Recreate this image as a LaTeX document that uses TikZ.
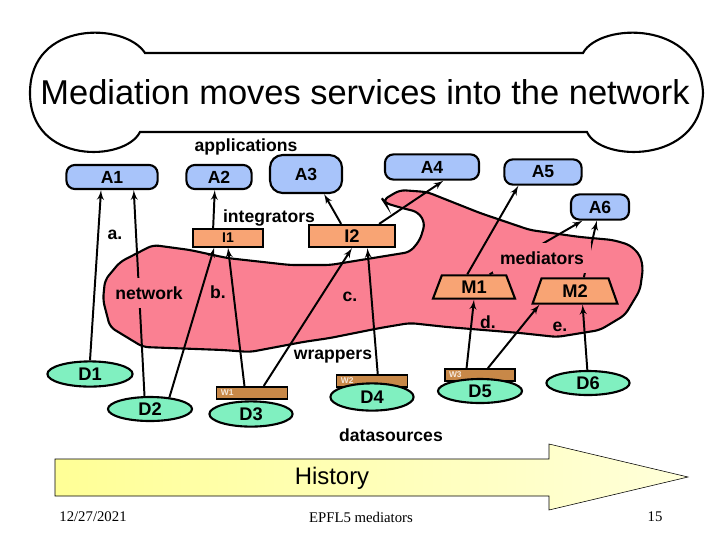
\documentclass[tikz,border=0pt]{standalone}
\usepackage{fontspec}
\setmainfont{Liberation Sans}
\newfontfamily\footfont{Liberation Serif}
\usetikzlibrary{arrows,shapes.geometric}
\definecolor{appblue}{RGB}{168,196,250}
\definecolor{partorange}{RGB}{248,164,116}
\definecolor{srcgreen}{RGB}{128,240,192}
\definecolor{wrapbrown}{RGB}{200,136,72}
\definecolor{blobpink}{RGB}{250,128,146}
\definecolor{histyellow}{RGB}{255,255,150}
\definecolor{histpale}{RGB}{255,255,218}
\pgfdeclarelayer{bg}
\pgfsetlayers{bg,main}
\tikzset{
    app/.style = {
        draw,
        shape=rectangle,
        rounded corners=6pt,
        fill=appblue,
        minimum height=0.6cm,
        inner sep=0pt,
        line width=1.5pt,
        font=\bfseries\fontsize{12.5}{14}\selectfont
    },
    integ/.style = {
        draw,
        shape=rectangle,
        fill=partorange,
        inner sep=0pt,
        line width=1.5pt
    },
    med/.style = {
        draw,
        shape=trapezium,
        trapezium angle=55,
        trapezium stretches body=true,
        fill=partorange,
        inner sep=0pt,
        line width=1.5pt,
        font=\bfseries\fontsize{13}{15}\selectfont
    },
    wrap/.style = {
        draw,
        shape=rectangle,
        fill=wrapbrown,
        minimum width=1.78cm,
        minimum height=0.31cm,
        inner sep=0pt,
        text width=1.55cm,
        align=left,
        line width=1.2pt,
        text=white!80!wrapbrown,
        font=\bfseries\fontsize{6}{6}\selectfont
    },
    src/.style = {
        draw,
        shape=ellipse,
        fill=srcgreen,
        minimum width=2.1cm,
        minimum height=0.6cm,
        inner sep=0pt,
        line width=1.5pt,
        font=\bfseries\fontsize{13}{15}\selectfont
    },
    lbl/.style = {
        inner sep=1pt,
        font=\bfseries\fontsize{12.5}{14}\selectfont
    },
    cover/.style = {
        lbl,
        fill=blobpink,
        inner xsep=5pt,
        inner ysep=6pt
    },
    >=latex',
}
\begin{document}
\begin{tikzpicture}[x=0.025cm, y=-0.025cm]
    \useasboundingbox (0,0) rectangle (720,540);

    % title bone
    \path[draw, fill=white, line width=1.5pt] (145,53) -- (583,53)
        .. controls (600,22) and (700,20) .. (703,93)
        .. controls (700,165) and (600,162) .. (587,132) -- (140,132)
        .. controls (125,162) and (30,165) .. (30,93)
        .. controls (30,20) and (125,22) .. (145,53) -- cycle;
    \node[font=\fontsize{24.5}{28}\selectfont] (title) at (365,92) {Mediation moves services into the network};

    % network region
    \begin{pgfonlayer}{bg}
        \path[draw, fill=blobpink, line width=1.5pt, rounded corners=4pt]
            (153,245) -- (190,250) -- (227,258) -- (290,265) -- (330,265) -- (410,252)
            -- (420,240) -- (425,223) -- (418,212) -- (402,208) -- (385,203) -- (383,200)
            -- (400,190) -- (427,192) -- (480,213) -- (530,230) -- (580,237) -- (613,240)
            -- (630,245) -- (640,255) -- (643,268) -- (640,290) -- (625,315) -- (600,330)
            -- (557,337) -- (520,333) -- (447,327) -- (410,323) -- (380,328) -- (330,338)
            -- (303,342) -- (250,352) -- (223,350) -- (143,347) -- (110,327) -- (103,300)
            -- (105,280) -- (120,262) -- cycle;
    \end{pgfonlayer}

    \node[app, minimum width=2.28cm] (a1) at (112,177) {A1};
    \node[app, minimum width=1.63cm] (a2) at (219,177) {A2};
    \node[app, minimum width=1.8cm, minimum height=0.95cm, rounded corners=9pt] (a3) at (306,174) {A3};
    \node[app, minimum width=2.35cm, minimum height=0.63cm] (a4) at (432,167) {A4};
    \node[app, minimum width=1.93cm, minimum height=0.63cm] (a5) at (543,172) {A5};
    \node[app, minimum width=1.45cm, minimum height=0.63cm] (a6) at (600,207) {A6};

    \node[integ, minimum width=1.73cm, minimum height=0.43cm, font=\bfseries\fontsize{10}{12}\selectfont] (i1) at (228,238) {I1};
    \node[integ, minimum width=2.15cm, minimum height=0.55cm, font=\bfseries\fontsize{13}{15}\selectfont] (i2) at (352,236) {I2};

    \node[med, minimum width=2.05cm, minimum height=0.58cm] (m1) at (474,287) {M1};
    \node[med, minimum width=2.12cm, minimum height=0.63cm] (m2) at (575,291) {M2};

    \node[wrap] (w1) at (252,393) {W1};
    \node[wrap, minimum height=0.3cm] (w2) at (372,381) {W2};
    \node[wrap, minimum width=1.75cm, minimum height=0.3cm] (w3) at (480,375) {W3};

    \node[src, minimum width=2.13cm, minimum height=0.63cm] (d1) at (90,374) {D1};
    \node[src] (d2) at (150,409) {D2};
    \node[src, minimum width=2.08cm, minimum height=0.63cm] (d3) at (251,414) {D3};
    \node[src, minimum width=2.08cm, minimum height=0.68cm] (d4) at (372,397) {D4};
    \node[src] (d5) at (480,391) {D5};
    \node[src, minimum width=2.08cm] (d6) at (588,383) {D6};

    \node[lbl] (applab) at (246,147) {applications};
    \node[lbl] (intlab) at (269,218) {integrators};
    \node[cover] (netlab) at (149,293) {network};
    \node[cover] (medlab) at (542,258) {mediators};
    \node[lbl] (wraplab) at (333,357) {wrappers};
    \node[lbl] (srclab) at (391,435) {datasources};
    \node[lbl] (la) at (115,235) {a.};
    \node[lbl] (lb) at (218,292) {b.};
    \node[lbl] (lc) at (350,297) {c.};
    \node[lbl] (ld) at (488,322) {d.};
    \node[lbl] (le) at (560,327) {e.};

    \begin{pgfonlayer}{bg}
        \path[draw, ->, line width=1.4pt] (d1.north) -- (a1.-130);
        \path[draw, ->, line width=1.4pt] (d2.113) -- (a1.-31);
        \path[draw, ->, line width=1.4pt] (d2.31) -- (i1.-145);
        \path[draw, ->, line width=1.4pt] (w1.137) -- (i1.south);
        \path[draw, ->, line width=1.4pt] (w1.31) -- (i2.south);
        \path[draw, ->, line width=1.4pt] (w2.50) -- (i2.-38);
        \path[draw, ->, line width=1.4pt] (i1.147) -- (a2.-108);
        \path[draw, ->, line width=1.4pt] (i2.132) -- (a3.-48);
        \path[draw, ->, line width=1.4pt] (i2.24) -- (a4.-50);
        \path[draw, ->, line width=1.4pt] (m1.118) -- (a5.-151);
        \path[draw, ->, line width=1.4pt] (m1.39) -- (a6.-142);
        \path[draw, ->, line width=1.4pt] (m2.57) -- (a6.-103);
        \path[draw, ->, line width=1.4pt] (w3.153) -- (m1.south);
        \path[draw, ->, line width=1.4pt] (w3.41) -- (m2.-159);
        \path[draw, ->, line width=1.4pt] (d6.93) -- (m2.-61);
    \end{pgfonlayer}

    % history arrow
    \path[draw, left color=histyellow, right color=histpale] (55,459) -- (549,459) -- (549,444)
        -- (688,477) -- (549,510) -- (549,496) -- (55,496) -- cycle;
    \node[font=\fontsize{17}{20}\selectfont] (hist) at (332,478) {History};

    \node[font=\footfont\fontsize{10.5}{12}\selectfont] (date) at (93,517) {12/27/2021};
    \node[font=\footfont\fontsize{10.5}{12}\selectfont] (foot) at (361,517) {EPFL5 mediators};
    \node[font=\footfont\fontsize{10.5}{12}\selectfont] (page) at (655,517) {15};
\end{tikzpicture}
\end{document}
